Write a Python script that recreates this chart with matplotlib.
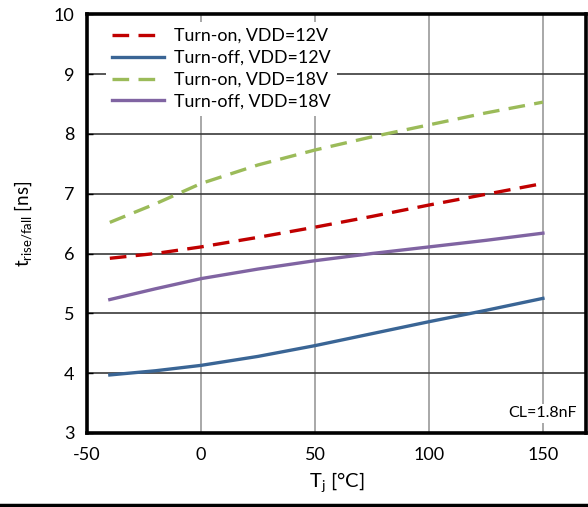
import numpy as np
import matplotlib.pyplot as plt
from matplotlib.lines import Line2D

plt.rcParams['font.family'] = ['Lato', 'DejaVu Sans']
plt.rcParams['mathtext.fontset'] = 'custom'
plt.rcParams['mathtext.rm'] = 'Lato'
plt.rcParams['mathtext.it'] = 'Lato'
plt.rcParams['axes.unicode_minus'] = False

# junction temperature [°C]
tj = [-40, -20, 0, 25, 50, 75, 100, 125, 150]

# rise / fall times [ns]
on_12 = [5.92, 6.00, 6.11, 6.27, 6.44, 6.62, 6.81, 6.99, 7.17]
off_12 = [3.97, 4.04, 4.13, 4.28, 4.46, 4.66, 4.86, 5.05, 5.25]
on_18 = [6.52, 6.83, 7.17, 7.48, 7.73, 7.95, 8.15, 8.35, 8.53]
off_18 = [5.23, 5.41, 5.58, 5.74, 5.88, 6.00, 6.11, 6.22, 6.34]

labels = ['Turn-on, VDD=12V', 'Turn-off, VDD=12V', 'Turn-on, VDD=18V', 'Turn-off, VDD=18V']
colors = ['#C00000', '#3A6595', '#9BBB59', '#8064A2']
styles = [(0, (5, 2.8)), '-', (0, (5, 2.8)), '-']
series = [on_12, off_12, on_18, off_18]

fig = plt.figure(figsize=(5.88, 5.07), dpi=100)
ax = fig.add_axes([0.148, 0.146, 0.849, 0.826])

for y, lab, c, ls in zip(series, labels, colors, styles):
    ax.plot(tj, y, color=c, linestyle=ls, linewidth=2.4, label=lab)

ax.set_xlim(-50, 169)
ax.set_ylim(3, 10)
ax.set_xticks([-50, 0, 50, 100, 150])
ax.set_yticks(range(3, 11))
ax.grid(axis='y', color='#3a3a3a', linewidth=1.2)
ax.grid(axis='x', color='#9a9a9a', linewidth=1.2)
ax.set_axisbelow(True)
for s in ax.spines.values():
    s.set_linewidth(2.6)
ax.tick_params(direction='in', length=4, width=1, labelsize=13, pad=9, colors='black')
ax.tick_params(axis='x', pad=10, length=0)

leg = ax.legend(loc='upper left', frameon=True, fontsize=12.8, handlelength=2.9,
                labelspacing=0.33, borderpad=0.35, handletextpad=0.6,
                bbox_to_anchor=(0.02, 1.003))
leg.get_frame().set_edgecolor('none')
leg.get_frame().set_facecolor('white')
leg.get_frame().set_alpha(1)
leg.get_frame().set_boxstyle('square', pad=0.0)

ax.text(150, 3.33, 'CL=1.8nF', fontsize=11.5, ha='center', va='center',
        bbox=dict(facecolor='white', edgecolor='none', pad=2))

ax.set_xlabel(r'T$_\mathregular{j}$ [°C]', fontsize=14.5, labelpad=5)
ax.set_ylabel(r't$_\mathregular{rise/fall}$ [ns]', fontsize=13.5, labelpad=14)

fig.add_artist(Line2D([0, 1], [0.004, 0.004], color='black', linewidth=2.5))

fig.savefig('out.png', dpi=100)
